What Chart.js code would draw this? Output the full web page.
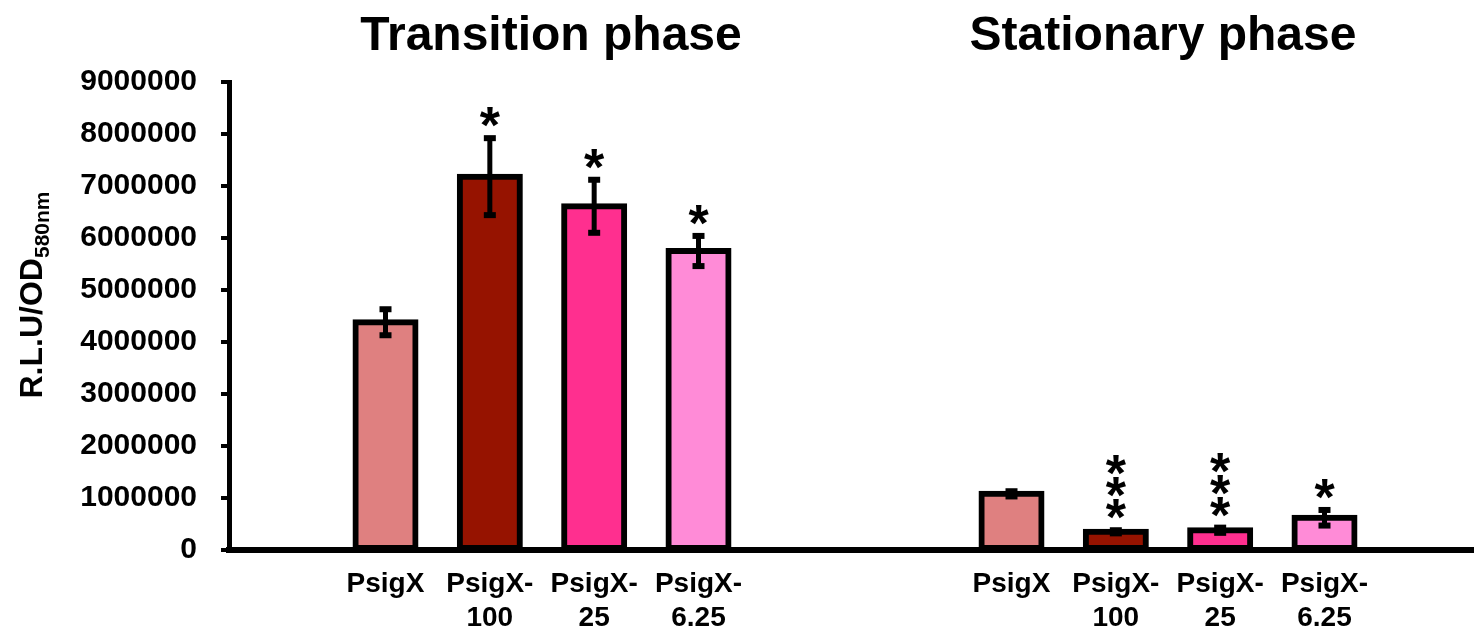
<!DOCTYPE html>
<html>
<head>
<meta charset="utf-8">
<script src="https://cdn.jsdelivr.net/npm/chart.js@4.4.0/dist/chart.umd.min.js"></script>
<style>
  html, body { margin:0; padding:0; background:#fff; overflow:hidden; }
  #wrap { width:1474px; height:632px; overflow:hidden; }
</style>
</head>
<body>
<div id="wrap"><canvas id="chart" width="1481" height="632"></canvas></div>
<script>
// slots: empty, 4 transition bars, 2 empty, 4 stationary bars, empty
const tickLabels = ['', 'PsigX', ['PsigX-', '100'], ['PsigX-', '25'], ['PsigX-', '6.25'], '', '',
                    'PsigX', ['PsigX-', '100'], ['PsigX-', '25'], ['PsigX-', '6.25'], ''];
const means  = [null, 4380000, 7180000, 6610000, 5750000, null, null, 1080000, 350000, 380000, 620000, null];
const errors = [null, 250000, 740000, 510000, 290000, null, null, 50000, 30000, 50000, 150000, null];
const stars  = ['', '', '*', '*', '*', '', '', '', '***', '***', '*', ''];
const barColors = [null, '#DF8080', '#961300', '#FF2F8F', '#FF8BD7', null, null,
                   '#DF8080', '#961300', '#FF2F8F', '#FF8BD7', null];
const phaseTitles = ['Transition phase', 'Stationary phase'];
const yMax = 9000000;
const yStep = 1000000;

const FONT = '"Liberation Sans", Arial, sans-serif';

// error bars, asterisks, titles
const extras = {
  id: 'extras',
  afterDraw(chart) {
    const ctx = chart.ctx;
    const y = chart.scales.y;
    const meta = chart.getDatasetMeta(0);
    ctx.save();
    ctx.fillStyle = '#000';
    ctx.strokeStyle = '#000';
    means.forEach((m, i) => {
      if (m === null) return;
      const x = meta.data[i].x;
      const top = y.getPixelForValue(m + errors[i]);
      const bot = y.getPixelForValue(m - errors[i]);
      ctx.lineWidth = 5;
      ctx.beginPath();
      ctx.moveTo(x, top);
      ctx.lineTo(x, bot);
      ctx.stroke();
      ctx.fillRect(x - 6, top - 3, 12, 6);
      ctx.fillRect(x - 6, bot - 3, 12, 6);
      // significance marks
      ctx.font = 'bold 52px ' + FONT;
      ctx.textAlign = 'center';
      ctx.textBaseline = 'alphabetic';
      for (let k = 0; k < stars[i].length; k++) {
        const cy = top - 24 - k * 22;
        ctx.fillText('*', x, cy + 29);
      }
    });

    // phase titles
    ctx.font = 'bold 48px ' + FONT;
    ctx.textAlign = 'center';
    ctx.fillText(phaseTitles[0], 551, 50);
    ctx.fillText(phaseTitles[1], 1163, 50);

    // y axis title with subscript
    ctx.translate(42, 295);
    ctx.rotate(-Math.PI / 2);
    ctx.textAlign = 'left';
    ctx.font = 'bold 32px ' + FONT;
    const main = 'R.L.U/OD';
    const sub = '580nm';
    const w1 = ctx.measureText(main).width;
    ctx.font = 'bold 21px ' + FONT;
    const w2 = ctx.measureText(sub).width;
    const start = -(w1 + w2) / 2;
    ctx.font = 'bold 32px ' + FONT;
    ctx.fillText(main, start, 0);
    ctx.font = 'bold 21px ' + FONT;
    ctx.fillText(sub, start + w1, 7);
    ctx.restore();
  }
};

new Chart(document.getElementById('chart'), {
  type: 'bar',
  data: {
    labels: tickLabels,
    datasets: [{
      data: means,
      backgroundColor: barColors,
      borderColor: '#000',
      borderWidth: 6,
      borderSkipped: false,
      inflateAmount: 3,
      barThickness: 60
    }]
  },
  options: {
    responsive: false,
    devicePixelRatio: 1,
    animation: false,
    layout: { padding: { top: 82, left: 0, right: 0, bottom: 0 } },
    plugins: { legend: { display: false }, tooltip: { enabled: false } },
    scales: {
      x: {
        afterFit: s => { s.height = 82; },
        grid: { display: false, drawTicks: false },
        border: { color: '#000', width: 6, z: 1 },
        ticks: {
          autoSkip: false,
          maxRotation: 0,
          padding: 17,
          color: '#000',
          font: { family: FONT, size: 28, weight: 'bold', lineHeight: 1.22 }
        }
      },
      y: {
        min: 0,
        max: yMax,
        afterFit: s => { s.width = 229; },
        grid: { drawOnChartArea: false, drawTicks: true, tickLength: 8, color: '#000', lineWidth: 4 },
        border: { color: '#000', width: 5 },
        ticks: {
          stepSize: yStep,
          padding: 24,
          color: '#000',
          font: { family: FONT, size: 30, weight: 'bold' },
          callback: v => String(v)
        }
      }
    }
  },
  plugins: [extras]
});
</script>
</body>
</html>
